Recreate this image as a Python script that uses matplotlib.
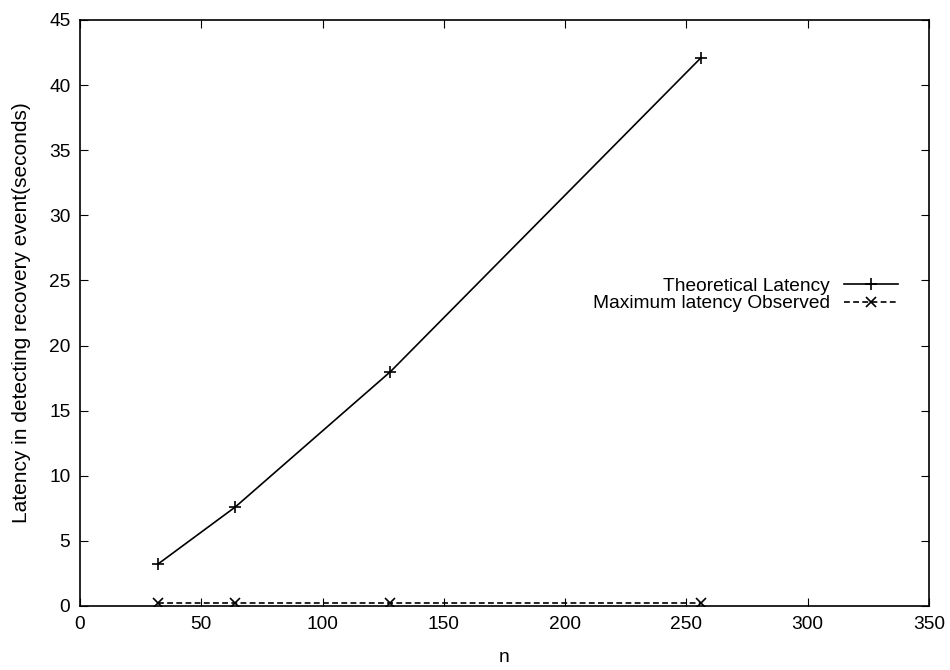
import matplotlib.pyplot as plt

plt.rcParams["font.family"] = ["Liberation Sans", "DejaVu Sans"]

# network size and detection latency
n_nodes = [32, 64, 128, 256]
theoretical_latency = [3.2, 7.6, 18.0, 42.1]
observed_latency = [0.2, 0.2, 0.2, 0.2]

x_ticks = [0, 50, 100, 150, 200, 250, 300, 350]
y_ticks = [0, 5, 10, 15, 20, 25, 30, 35, 40, 45]

fs = 13.8

fig = plt.figure(figsize=(9.5, 6.7), dpi=100)
ax = fig.add_axes([80 / 950, 1 - 606 / 670, 849 / 950, 586 / 670])

ax.plot(n_nodes, theoretical_latency, color="black", lw=1.2, marker="+",
        ms=9, mew=1.2, label="Theoretical Latency")
ax.plot(n_nodes, observed_latency, color="black", lw=1.2, ls=(0, (3.5, 2)),
        marker="x", ms=7, mew=1.2, label="Maximum latency Observed")

ax.set_xlim(0, 350)
ax.set_ylim(0, 45)
ax.set_xticks(x_ticks)
ax.set_yticks(y_ticks)
ax.tick_params(direction="in", length=6, width=0.8, labelsize=fs,
               top=True, right=True, pad=7)
for side in ax.spines.values():
    side.set_linewidth(1.2)

ax.set_xlabel("n", fontsize=fs, labelpad=12)
ax.set_ylabel("Latency in detecting recovery event(seconds)", fontsize=15,
              labelpad=13)

ax.legend(loc="center right", bbox_to_anchor=(0.972, 0.531), frameon=False,
          markerfirst=False, fontsize=fs, handlelength=2.8,
          handletextpad=0.75, labelspacing=0.0, borderaxespad=0)

fig.savefig("out.png", dpi=100)
